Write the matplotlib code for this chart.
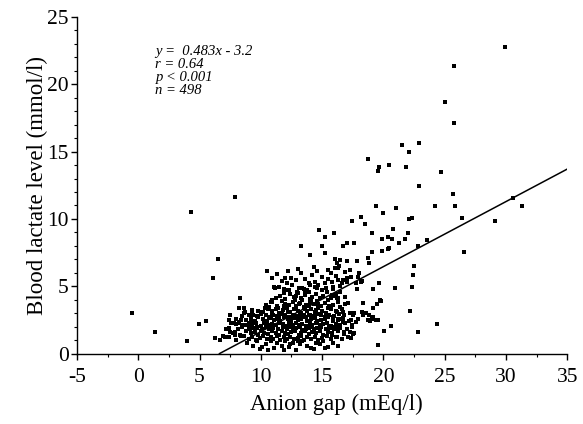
import matplotlib
matplotlib.use("Agg")
import matplotlib.pyplot as plt
from matplotlib.ticker import MultipleLocator

plt.rcParams["font.family"] = ["Liberation Serif", "DejaVu Serif"]
plt.rcParams["axes.unicode_minus"] = False

# ── data ──────────────────────────────────────────────────────────────────────
# scattered / outlying patients
out_x = [-0.47, 1.37, 3.94, 4.33, 7.93, 6.52, 6.11, 4.92, 5.54, 6.24, 7.5, 8.25, 8.66, 8.66, 9.31,
         10.5, 13.24, 14.76, 15.22, 16.0, 14.98, 15.22, 14.0, 29.96, 25.73, 25.02, 25.79, 22.89,
         21.48, 22.05, 18.74, 19.63, 19.53, 20.47, 21.83, 24.67, 22.94, 25.71, 30.61, 31.34,
         24.21, 25.81, 19.37, 20.99, 19.96, 18.15, 17.41, 18.5, 22.07, 22.37, 26.38, 29.07,
         19.09, 20.75, 21.97, 19.85, 20.34, 20.72, 21.28, 21.77, 23.56, 16.68, 17.06, 17.6,
         22.83, 19.09, 19.9, 20.34, 20.45, 26.57, 18.72, 18.85, 17.82, 17.0, 16.46, 16.22,
         16.06, 16.38, 16.3, 22.46, 22.42, 22.32, 20.96, 19.66, 19.17]
out_y = [3.03, 1.6, 0.93, 10.52, 11.66, 7.0, 5.64, 2.19, 2.44, 1.15, 2.88, 3.4, 3.4, 3.03, 3.18,
         6.13, 8.0, 9.18, 8.64, 8.94, 7.97, 7.47, 7.3, 22.74, 21.38, 18.68, 17.16, 15.67,
         15.52, 15.0, 14.48, 13.89, 13.59, 14.01, 13.89, 13.49, 12.45, 11.84, 11.56, 10.99,
         10.99, 10.99, 10.94, 10.8, 10.42, 10.13, 9.83, 9.61, 10.02, 10.1, 10.1, 9.87,
         8.98, 9.28, 8.98, 8.54, 8.64, 8.49, 8.24, 8.51, 8.46, 8.01, 8.19, 8.19,
         7.97, 7.57, 7.64, 7.75, 7.87, 7.57, 7.12, 6.71, 6.86, 6.86, 6.95, 6.75,
         7.03, 6.51, 6.38, 6.51, 5.84, 4.92, 4.87, 5.22, 4.8]

# right-hand shoulder of the cloud (x 15.5 - 24)
side_x = [18.03, 18.15, 17.95, 17.76, 18.23, 17.82, 19.72, 19.8, 19.5, 22.15, 20.59, 20.02, 22.8,
          24.37, 19.55, 19.17, 19.37, 19.58, 18.82, 19.17, 18.36, 18.23, 18.44, 18.58, 17.3,
          17.63, 17.5, 17.33, 17.74, 17.46, 17.28, 17.54, 17.33, 16.46, 16.68, 16.28, 16.2,
          15.65, 18.31, 18.76, 18.9, 19.04, 15.9, 15.79, 15.98, 16.33, 16.46, 16.73, 17.0,
          17.28, 17.33, 16.87, 17.14, 16.46, 16.73, 16.2, 15.92, 16.33, 16.06, 15.79, 16.2, 16.79]
side_y = [5.96, 5.34, 5.71, 5.22, 5.39, 4.8, 3.98, 3.9, 3.68, 3.16, 2.07, 1.7, 1.58,
          2.17, 0.63, 2.69, 2.49, 2.49, 2.86, 3.36, 3.78, 3.11, 2.99, 3.03, 2.99,
          3.03, 2.86, 2.49, 2.36, 1.99, 1.62, 1.45, 1.13, 2.54, 2.36, 1.87, 1.25,
          1.87, 2.86, 2.49, 2.44, 2.54, 4.92, 4.35, 4.28, 4.1, 5.02, 5.46, 5.34,
          6.21, 5.71, 4.22, 3.78, 3.48, 3.11, 3.11, 2.74, 2.49, 1.99, 1.38, 1.25, 1.62]

# upper part of the main cloud (y 4 - 6.5)
upper_x = [11.45, 11.72, 11.99, 12.13, 12.26, 11.86, 11.18, 12.53, 12.94, 12.67, 13.35, 13.62,
           13.89, 14.21, 14.43, 14.7, 15.24, 15.79, 16.33, 16.6, 16.87, 17.0, 15.51, 16.06,
           11.1, 10.9, 11.3, 12.5, 12.9, 13.3, 13.6, 14.0, 14.6, 15.0, 15.5, 16.1, 12.2, 13.0,
           14.3, 15.7]
upper_y = [4.97, 5.39, 5.59, 5.22, 4.72, 4.8, 4.89, 5.09, 4.6, 4.22, 4.85, 4.65,
           5.22, 5.84, 5.34, 5.09, 5.22, 5.34, 5.46, 5.22, 6.08, 5.59, 6.21, 6.33,
           4.97, 5.6, 5.9, 5.6, 5.45, 6.0, 5.55, 5.1, 6.1, 5.7, 5.55, 5.8, 6.1, 6.3,
           6.4, 6.0]

# left edge of the cloud (x 6.5 - 11)
left_x = [7.52, 8.2, 8.6, 8.74, 9.28, 10.1, 10.37, 10.91, 10.64, 8.2, 7.79, 8.47, 9.01, 9.41,
          9.69, 7.52, 7.93, 7.11, 7.38, 6.7, 6.9, 7.2, 7.6, 8.0, 8.2, 8.5, 8.8, 7.9, 8.4,
          9.1, 9.4, 7.4, 8.33]
left_y = [2.86, 3.36, 3.36, 3.11, 3.23, 3.11, 3.36, 3.98, 3.48, 2.36, 2.25, 2.12, 1.99, 2.25,
          1.87, 1.62, 1.38, 1.25, 1.87, 1.0, 1.3, 1.8, 2.3, 2.6, 2.3, 2.8, 2.5, 1.6, 1.3,
          2.3, 2.9, 2.5, 4.1]

# dense core of the cloud
core_x = [8.9, 9.4, 9.7, 10.1, 10.4, 10.8, 11.1, 11.3, 11.7, 12.0, 12.3, 12.6, 12.9, 13.2, 13.4,
          13.8, 14.1, 14.5, 14.8, 15.1, 15.5, 15.9, 16.3, 10.6, 11.9, 13.0, 14.3, 12.4, 15.2, 9.9,
          7.4, 8.0, 8.6, 9.0, 9.3, 9.6, 9.9, 10.2, 10.5, 10.8, 11.0, 11.3, 11.6, 11.9, 12.1,
          12.4, 12.7, 13.0, 13.3, 13.5, 13.8, 14.1, 14.4, 14.7, 15.0, 15.4, 15.7, 16.1, 16.6, 17.1,
          7.7, 8.3, 8.8, 9.2, 9.5, 9.8, 10.0, 10.3, 10.6, 10.9, 11.2, 11.5, 11.7, 12.0, 12.2,
          12.5, 12.8, 13.1, 13.3, 13.6, 13.9, 14.2, 14.5, 14.8, 15.1, 15.5, 15.8, 16.3, 16.8, 17.6,
          8.1, 8.5, 9.1, 9.4, 9.7, 10.1, 10.4, 10.7, 11.0, 11.4, 11.8, 12.1, 12.3, 12.6, 12.9,
          13.2, 13.4, 13.7, 14.0, 14.3, 14.6, 14.9, 15.3, 15.6, 16.0, 16.5, 17.0, 10.9, 12.7, 13.9,
          8.0, 8.7, 9.0, 9.3, 9.6, 10.0, 10.3, 10.6, 10.9, 11.2, 11.5, 11.8, 12.0, 12.3, 12.6,
          12.9, 13.1, 13.4, 13.7, 14.0, 14.2, 14.5, 14.8, 15.1, 15.4, 15.7, 16.1, 16.5, 16.9, 17.4,
          8.4, 9.2, 9.5, 9.8, 10.2, 10.5, 10.8, 11.1, 11.4, 11.6, 11.9, 12.2, 12.5, 12.7, 13.0,
          13.3, 13.5, 13.8, 14.1, 14.4, 14.6, 14.9, 15.2, 15.5, 15.9, 16.3, 16.7, 17.2, 17.9, 13.2,
          9.0, 9.7, 10.0, 10.4, 10.7, 11.0, 11.3, 11.7, 12.0, 12.4, 12.6, 12.9, 13.2, 13.5, 13.7,
          14.0, 14.3, 14.6, 14.9, 15.2, 15.6, 16.0, 16.4, 16.8, 12.1, 13.9, 14.7, 11.5, 10.9, 15.4,
          9.8, 10.2, 10.6, 10.9, 11.2, 11.5, 11.8, 12.1, 12.4, 12.7, 13.0, 13.3, 13.6, 13.8,
          14.1, 14.4, 14.7, 15.0, 15.3, 15.7, 16.1, 16.6, 11.4, 12.9, 14.5, 13.5, 12.2, 15.5,
          10.4, 10.8, 11.3, 11.7, 12.0, 12.3, 12.6, 12.9, 13.2, 13.4, 13.7, 14.0, 14.3, 14.6,
          14.9, 15.2, 15.5, 15.9, 16.3, 16.9, 12.8, 13.9, 14.7, 11.9, 15.6, 13.1, 14.1, 10.9,
          11.2, 11.6, 12.0, 12.4, 12.7, 13.0, 13.3, 13.6, 13.9, 14.2, 14.5, 14.8, 15.1, 15.4,
          15.7, 16.1, 16.5, 12.2, 13.5, 14.6, 15.0, 13.1, 14.0, 15.9, 12.9, 14.4, 16.2, 11.9,
          13.8, 15.3]
core_y = [0.8, 0.6, 0.9, 0.5, 0.7, 0.9, 0.4, 0.8, 0.6, 0.9, 0.5, 0.8, 0.3, 0.7, 0.9,
          0.6, 0.4, 0.8, 0.7, 0.9, 0.5, 0.8, 0.6, 0.3, 0.3, 0.95, 0.35, 0.75, 0.45, 0.35,
          1.2, 1.0, 1.3, 1.1, 1.25, 1.0, 1.15, 1.3, 1.05, 1.2, 1.1, 1.3, 1.0, 1.2, 1.1,
          1.25, 1.05, 1.15, 1.3, 1.0, 1.2, 1.1, 1.25, 1.0, 1.15, 1.3, 1.05, 1.2, 1.1, 1.25,
          1.5, 1.4, 1.7, 1.5, 1.6, 1.4, 1.7, 1.55, 1.45, 1.65, 1.5, 1.4, 1.7, 1.55, 1.45,
          1.6, 1.7, 1.4, 1.55, 1.65, 1.45, 1.6, 1.5, 1.7, 1.4, 1.6, 1.5, 1.65, 1.45, 1.55,
          1.85, 1.95, 1.8, 1.9, 2.0, 1.8, 1.95, 1.85, 1.9, 1.8, 2.0, 1.85, 1.95, 1.8, 1.9,
          2.0, 1.75, 1.85, 1.95, 1.8, 1.9, 2.0, 1.85, 1.95, 1.8, 1.9, 1.85, 2.0, 1.75, 1.9,
          2.2, 2.1, 2.3, 2.15, 2.25, 2.05, 2.3, 2.15, 2.2, 2.1, 2.3, 2.2, 2.05, 2.25, 2.15,
          2.3, 2.1, 2.2, 2.05, 2.3, 2.15, 2.25, 2.1, 2.2, 2.3, 2.05, 2.2, 2.15, 2.25, 2.1,
          2.5, 2.6, 2.45, 2.7, 2.55, 2.4, 2.65, 2.5, 2.6, 2.45, 2.7, 2.55, 2.4, 2.65, 2.5,
          2.6, 2.7, 2.45, 2.55, 2.65, 2.4, 2.5, 2.6, 2.7, 2.45, 2.55, 2.65, 2.4, 2.6, 2.7,
          2.85, 2.8, 2.95, 2.85, 2.75, 2.9, 2.8, 2.95, 2.85, 2.75, 2.9, 2.8, 2.95, 2.85, 2.75,
          2.9, 2.8, 2.95, 2.85, 2.75, 2.9, 2.8, 2.95, 2.85, 2.75, 2.9, 2.95, 2.75, 2.95, 2.8,
          3.2, 3.1, 3.35, 3.15, 3.3, 3.05, 3.25, 3.4, 3.1, 3.3, 3.2, 3.05, 3.35, 3.15,
          3.3, 3.1, 3.4, 3.2, 3.05, 3.3, 3.15, 3.35, 3.4, 3.45, 3.25, 3.45, 3.1, 3.4,
          3.6, 3.8, 3.55, 3.9, 3.7, 3.6, 3.85, 3.55, 3.75, 3.95, 3.6, 3.8, 3.65, 3.9,
          3.55, 3.75, 3.95, 3.6, 3.8, 3.7, 3.95, 3.5, 3.7, 3.5, 3.55, 3.65, 3.95, 3.85,
          4.1, 4.3, 4.05, 4.4, 4.2, 4.5, 4.1, 4.35, 4.6, 4.2, 4.45, 4.1, 4.3, 4.55,
          4.15, 4.4, 4.6, 4.7, 4.8, 4.9, 4.75, 4.85, 4.05, 4.8, 4.3, 4.95, 4.1, 4.5,
          4.7, 4.9]

# regression reported on the chart
slope = 0.483
intercept = -3.2
stats_text = "y =  0.483x - 3.2\nr = 0.64\np < 0.001\nn = 498"

# ── plot ──────────────────────────────────────────────────────────────────────
fig = plt.figure(figsize=(5.83, 4.24), dpi=100)
ax = fig.add_axes([0.132, 0.166, 0.841, 0.794])

for xs, ys in [(out_x, out_y), (side_x, side_y), (upper_x, upper_y),
               (left_x, left_y), (core_x, core_y)]:
    ax.scatter(xs, ys, marker="s", s=6, color="black", linewidths=0)

x_fit = [-intercept / slope, 35]
ax.plot(x_fit, [slope * v + intercept for v in x_fit], color="black", lw=1.1)

ax.text(1.4, 22.9, stats_text, fontsize=10.5, style="italic", va="top", linespacing=1.0)

ax.set_xlim(-5, 35)
ax.set_ylim(0, 25)
ax.xaxis.set_major_locator(MultipleLocator(5))
ax.xaxis.set_minor_locator(MultipleLocator(2.5))
ax.yaxis.set_major_locator(MultipleLocator(5))
ax.yaxis.set_minor_locator(MultipleLocator(1))
ax.tick_params(which="major", direction="out", length=4, width=1, labelsize=15.5)
ax.tick_params(axis="x", which="major", pad=6)
ax.tick_params(axis="y", which="major", pad=2)
ax.tick_params(which="minor", direction="out", length=2.5, width=0.8)
for s in ["top", "right"]:
    ax.spines[s].set_visible(False)
ax.spines["left"].set_linewidth(1)
ax.spines["bottom"].set_linewidth(1)

ax.set_xlabel("Anion gap (mEq/l)", fontsize=16.5, labelpad=8)
ax.xaxis.set_label_coords(0.53, -0.12)
ax.set_ylabel("Blood lactate level (mmol/l)", fontsize=16.5, labelpad=-1)

fig.savefig("out.png", dpi=100)
